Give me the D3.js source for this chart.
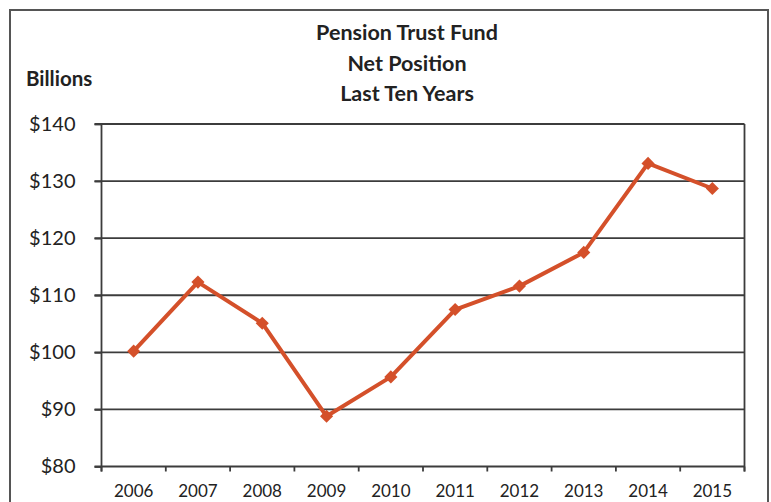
<!DOCTYPE html>
<html><head><meta charset="utf-8">
<script src="https://cdn.jsdelivr.net/npm/d3@7"></script>
<style>
html,body{margin:0;padding:0;background:#fff;}
svg{display:block;}
text{font-family:Lato,"Open Sans",sans-serif;fill:#222;}
</style></head>
<body>
<svg id="chart" width="771" height="502"></svg>
<script>
const years = ["2006","2007","2008","2009","2010","2011","2012","2013","2014","2015"];
const netPosition = [100.2, 112.3, 105.1, 88.8, 95.7, 107.5, 111.6, 117.5, 133.1, 128.7];
const yTicks = [80, 90, 100, 110, 120, 130, 140];
const titleLines = ["Pension Trust Fund", "Net Position", "Last Ten Years"];
const yUnitLabel = "Billions";

(function () {
const svg = d3.select("#chart");
const pLeft = 101.5, pRight = 744.5, pTop = 124, pBottom = 466.5;
const gridColor = "#3c3c3c";
const lineColor = "#d4502a";

// outer frame
svg.append("rect").attr("x", 10).attr("y", 10).attr("width", 758).attr("height", 520)
  .attr("fill", "none").attr("stroke", "#555").attr("stroke-width", 2);

const x = d3.scaleBand().domain(years).range([pLeft, pRight]).padding(0);
const y = d3.scaleLinear().domain([80, 140]).range([pBottom, pTop]);

// gridlines
svg.append("g").selectAll("line").data(yTicks.filter(t => t > 80)).join("line")
  .attr("x1", pLeft - 7).attr("x2", pRight)
  .attr("y1", d => y(d)).attr("y2", d => y(d))
  .attr("stroke", gridColor).attr("stroke-width", 1.8);

// right border of plot
svg.append("line").attr("x1", pRight).attr("x2", pRight).attr("y1", pTop).attr("y2", pBottom + 5)
  .attr("stroke", gridColor).attr("stroke-width", 1.8);

// y axis
const yAxis = d3.axisLeft(y).tickValues(yTicks).tickSize(7).tickPadding(19)
  .tickFormat(d => "$" + d);
const gy = svg.append("g").attr("transform", `translate(${pLeft},0)`).call(yAxis);
gy.select(".domain").attr("stroke", gridColor).attr("stroke-width", 1.8)
  .attr("d", `M0,${pTop}V${pBottom + 5}`);
gy.selectAll(".tick line").attr("stroke", gridColor).attr("stroke-width", 1.8);
gy.selectAll(".tick text").style("font-size", "20px").style("font-family", "Lato").attr("fill", "#222");

// x axis
const xAxis = d3.axisBottom(x).tickSize(0).tickPadding(18);
const gx = svg.append("g").attr("transform", `translate(0,${pBottom})`).call(xAxis);
gx.select(".domain").attr("stroke", gridColor).attr("stroke-width", 1.8)
  .attr("d", `M${pLeft - 7},0H${pRight}`);
gx.selectAll(".tick text").style("font-size", "17px").style("font-family", "Lato").attr("fill", "#222");
// category boundary ticks
const bounds = years.map(d => x(d)).concat([x(years[years.length-1]) + x.bandwidth()]);
svg.append("g").selectAll("line").data(bounds).join("line")
  .attr("x1", d => d).attr("x2", d => d).attr("y1", pBottom).attr("y2", pBottom + 5)
  .attr("stroke", gridColor).attr("stroke-width", 1.8);

// data line
const cx = d => x(d) + x.bandwidth() / 2;
const pts = years.map((d, i) => [cx(d), y(netPosition[i])]);
svg.append("path").datum(pts)
  .attr("d", d3.line())
  .attr("fill", "none").attr("stroke", lineColor).attr("stroke-width", 4)
  .attr("stroke-linejoin", "round");
svg.append("g").selectAll("path").data(pts).join("path")
  .attr("d", d3.symbol(d3.symbolDiamond2, 110)())
  .attr("transform", d => `translate(${d[0]},${d[1]})`)
  .attr("fill", lineColor);

// titles
svg.append("g").selectAll("text").data(titleLines).join("text")
  .attr("x", 407).attr("y", (d, i) => 40 + i * 30.5)
  .attr("text-anchor", "middle")
  .style("font-size", "21.5px").style("font-weight", "bold")
  .text(d => d);
svg.append("text").attr("x", 26).attr("y", 86)
  .style("font-size", "20.5px").style("font-weight", "bold").text(yUnitLabel);
})();
</script>
</body></html>
